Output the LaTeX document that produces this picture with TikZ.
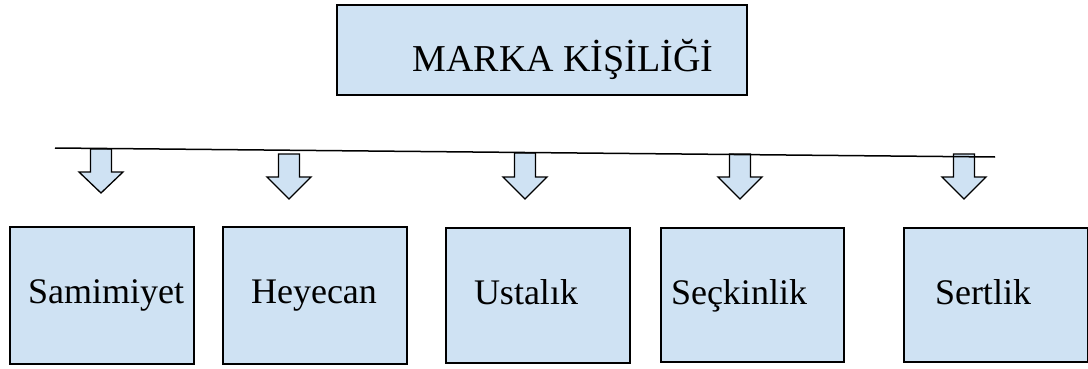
\documentclass[tikz,border=0pt]{standalone}
\usepackage{fontspec}
\setmainfont{Liberation Serif}
\definecolor{boxfill}{RGB}{207,226,243}
\tikzset{
  box/.style={draw=black, line width=1.6pt, fill=boxfill, inner sep=0pt, anchor=north west},
  lbl/.style={inner sep=0pt, anchor=base, font=\fontsize{36}{40}\selectfont},
  downarrow/.style={draw=black, line width=1.3pt, fill=boxfill, line join=miter},
}
% block arrow pointing down: #1 centre x, #2 top y, #3 head y, #4 tip y
\newcommand{\blockarrow}[4]{%
  \draw[downarrow] (#1-10.5,#2) -- (#1+10.5,#2) -- (#1+10.5,#3) -- (#1+22,#3)
    -- (#1,#4) -- (#1-22,#3) -- (#1-10.5,#3) -- cycle;}
\begin{document}
\begin{tikzpicture}[x=1pt,y=-1pt]
\useasboundingbox (0,0) rectangle (1088,369);

% title box
\node[box, minimum width=410pt, minimum height=90pt] (top) at (336,4) {};
\node[lbl, font=\fontsize{38}{44}\selectfont] (toptext) at (563,72) {MARKA KİŞİLİĞİ};

% arrows below the bar
\blockarrow{101}{149}{172}{193}
\blockarrow{289}{154}{177}{199}
\blockarrow{525}{153}{177}{199}
\blockarrow{740}{154}{177}{199}
\blockarrow{964}{154}{177}{199}

% horizontal bar
\coordinate (barL) at (55,148);
\coordinate (barR) at (995,157);
\draw[line width=1.5pt] (barL) -- (barR);

% dimension boxes
\node[box, minimum width=184pt, minimum height=137pt] (b1) at (9,226) {};
\node[box, minimum width=184pt, minimum height=137pt] (b2) at (222,226) {};
\node[box, minimum width=184pt, minimum height=135pt] (b3) at (445,227) {};
\node[box, minimum width=183pt, minimum height=134pt] (b4) at (660,227) {};
\node[box, minimum width=184pt, minimum height=134pt] (b5) at (903,227) {};

\node[lbl] (t1) at (106,303) {Samimiyet};
\node[lbl] (t2) at (314,303) {Heyecan};
\node[lbl] (t3) at (526,304) {Ustalık};
\node[lbl] (t4) at (739,304) {Seçkinlik};
\node[lbl] (t5) at (983,304) {Sertlik};
\end{tikzpicture}
\end{document}
